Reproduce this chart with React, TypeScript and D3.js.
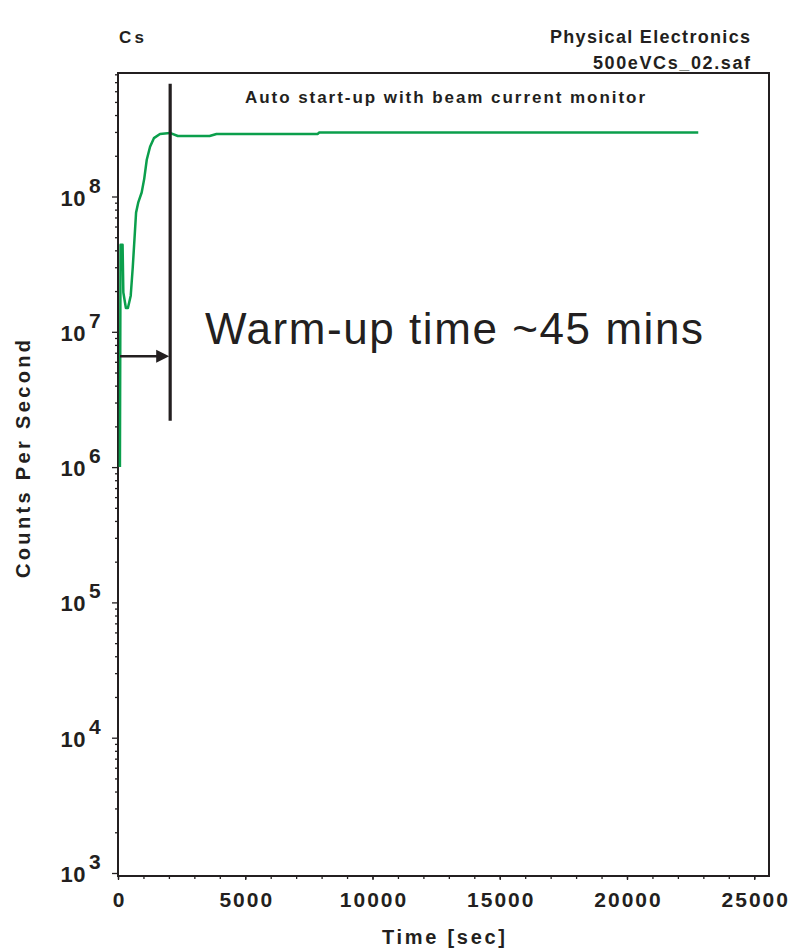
import React, { useEffect, useRef } from "react";
import * as d3 from "d3";

// sputter count rate vs time
const timeSec = [75, 100, 180, 210, 310, 390, 500, 580, 640, 710, 800, 930, 1030, 1130, 1260, 1410, 1650, 2040, 2350, 3600, 3870, 7850, 7900, 22800];
const countsPerSec = [1.0e6, 4.4e7, 4.4e7, 1.95e7, 1.5e7, 1.5e7, 1.85e7, 3.0e7, 4.6e7, 7.6e7, 9.1e7, 1.07e8, 1.35e8, 1.87e8, 2.33e8, 2.7e8, 2.9e8, 2.95e8, 2.8e8, 2.8e8, 2.9e8, 2.9e8, 2.97e8, 2.97e8];

const xMajorTicks = [0, 5000, 10000, 15000, 20000, 25000];
const xMinorTicks = d3.range(0, 25001, 1000);
const yDecades = [3, 4, 5, 6, 7, 8];

// warm-up marker
const warmupTime = 2050;
const markerTop = 6.8e8;
const markerBottom = 2.2e6;
const arrowStart = 80;
const arrowLevel = 6.6e6;

const INK = "#231f20";
const GREEN = "#0b9f4c";
const FONT = "'Liberation Sans', Arial, Helvetica, sans-serif";

export default function App() {
  const ref = useRef<SVGSVGElement | null>(null);

  useEffect(() => {
    const svg = d3.select(ref.current);
    svg.selectAll("*").remove();

    const frame = { left: 118, top: 73, right: 769, bottom: 876 };
    const decadePx = 135.3;

    const x = d3.scaleLinear().domain([0, 25580]).range([frame.left, frame.right]);
    const y = d3
      .scaleLog()
      .domain([Math.pow(10, 3 - 3 / decadePx), Math.pow(10, 3 + (873 - frame.top) / decadePx)])
      .range([frame.bottom, frame.top]);

    const [lo, hi] = y.domain();
    const yMinor: number[] = [];
    for (let p = 2; p <= 8; p++) {
      for (let k = 2; k <= 9; k++) {
        const v = k * Math.pow(10, p);
        if (v >= lo && v <= hi) yMinor.push(v);
      }
    }

    // ticks
    const tickStyle = (g: any) => {
      g.select(".domain").remove();
      g.selectAll("line").attr("stroke", INK).attr("stroke-width", 1.3);
    };

    svg.append("g")
      .attr("transform", `translate(${frame.left},0)`)
      .call(d3.axisLeft(y).tickValues(yMinor).tickSize(3).tickFormat(() => ""))
      .call(tickStyle);
    svg.append("g")
      .attr("transform", `translate(${frame.left},0)`)
      .call(d3.axisLeft(y).tickValues(yDecades.map(p => Math.pow(10, p))).tickSize(6).tickFormat(() => ""))
      .call(tickStyle);

    svg.append("g")
      .attr("transform", `translate(0,${frame.bottom})`)
      .call(d3.axisBottom(x).tickValues(xMinorTicks).tickSize(3).tickFormat(() => ""))
      .call(tickStyle);

    const xAxis = svg.append("g")
      .attr("transform", `translate(0,${frame.bottom})`)
      .call(d3.axisBottom(x).tickValues(xMajorTicks).tickSize(4).tickFormat(d3.format("d")))
      .call(tickStyle);
    xAxis.selectAll("text")
      .attr("y", 31)
      .attr("dy", 0)
      .attr("fill", INK)
      .attr("font-family", FONT)
      .attr("font-size", 21)
      .attr("font-weight", "bold")
      .attr("letter-spacing", "2px")
      .attr("dx", 1);

    // y tick labels: 10^n
    yDecades.forEach(p => {
      const yy = y(Math.pow(10, p));
      svg.append("text")
        .attr("x", 86)
        .attr("y", yy + 9)
        .attr("text-anchor", "end")
        .attr("font-family", FONT)
        .attr("font-size", 22)
        .attr("font-weight", "bold")
        .attr("fill", INK)
        .attr("letter-spacing", "0.5px")
        .text("10");
      svg.append("text")
        .attr("x", 89)
        .attr("y", yy - 4)
        .attr("font-family", FONT)
        .attr("font-size", 21)
        .attr("font-weight", "bold")
        .attr("fill", INK)
        .text(String(p));
    });

    // frame
    svg.append("rect")
      .attr("x", frame.left)
      .attr("y", frame.top)
      .attr("width", frame.right - frame.left)
      .attr("height", frame.bottom - frame.top)
      .attr("fill", "none")
      .attr("stroke", INK)
      .attr("stroke-width", 2);

    // data line
    const pts: [number, number][] = timeSec.map((t, i) => [t, countsPerSec[i]]);
    const line = d3.line<[number, number]>()
      .x(d => x(d[0]))
      .y(d => y(d[1]));
    svg.append("path")
      .attr("d", line(pts))
      .attr("fill", "none")
      .attr("stroke", GREEN)
      .attr("stroke-width", 2.5)
      .attr("stroke-linejoin", "round");

    // warm-up marker + arrow
    const mx = x(warmupTime);
    svg.append("line")
      .attr("x1", mx).attr("x2", mx)
      .attr("y1", y(markerTop)).attr("y2", y(markerBottom))
      .attr("stroke", INK)
      .attr("stroke-width", 3.2);

    const ay = y(arrowLevel);
    svg.append("line")
      .attr("x1", x(arrowStart)).attr("x2", mx - 12)
      .attr("y1", ay).attr("y2", ay)
      .attr("stroke", INK)
      .attr("stroke-width", 2.6);
    svg.append("path")
      .attr("d", `M${mx - 14},${ay - 6.5}L${mx - 1},${ay}L${mx - 14},${ay + 6.5}Z`)
      .attr("fill", INK);

    // texts
    const txt = (s: string, xx: number, yy: number, size: number, opts: any = {}) => {
      const t = svg.append("text")
        .attr("x", xx)
        .attr("y", yy)
        .attr("font-family", FONT)
        .attr("font-size", size)
        .attr("font-weight", opts.weight ?? "bold")
        .attr("fill", INK)
        .attr("text-anchor", opts.anchor ?? "start")
        .text(s);
      if (opts.len) t.attr("textLength", opts.len).attr("lengthAdjust", "spacing");
      if (opts.transform) t.attr("transform", opts.transform);
      return t;
    };

    txt("Cs", 119, 43, 17, { len: 25 });
    txt("Physical Electronics", 750, 43, 18, { anchor: "end", len: 200 });
    txt("500eVCs_02.saf", 750, 69, 18, { anchor: "end", len: 157 });
    txt("Auto start-up with beam current monitor", 245, 103, 17, { len: 400 });
    txt("Warm-up time ~45 mins", 205, 344, 44, { weight: "normal", len: 498 });
    txt("Time [sec]", 382, 944, 20, { len: 123 });
    txt("Counts Per Second", 0, 0, 20, {
      anchor: "middle",
      len: 238,
      transform: "translate(30,459) rotate(-90)",
    });
  }, []);

  return (
    <svg
      ref={ref}
      width={796}
      height={949}
      style={{ position: "absolute", left: 0, top: 0, background: "#fff" }}
    />
  );
}
